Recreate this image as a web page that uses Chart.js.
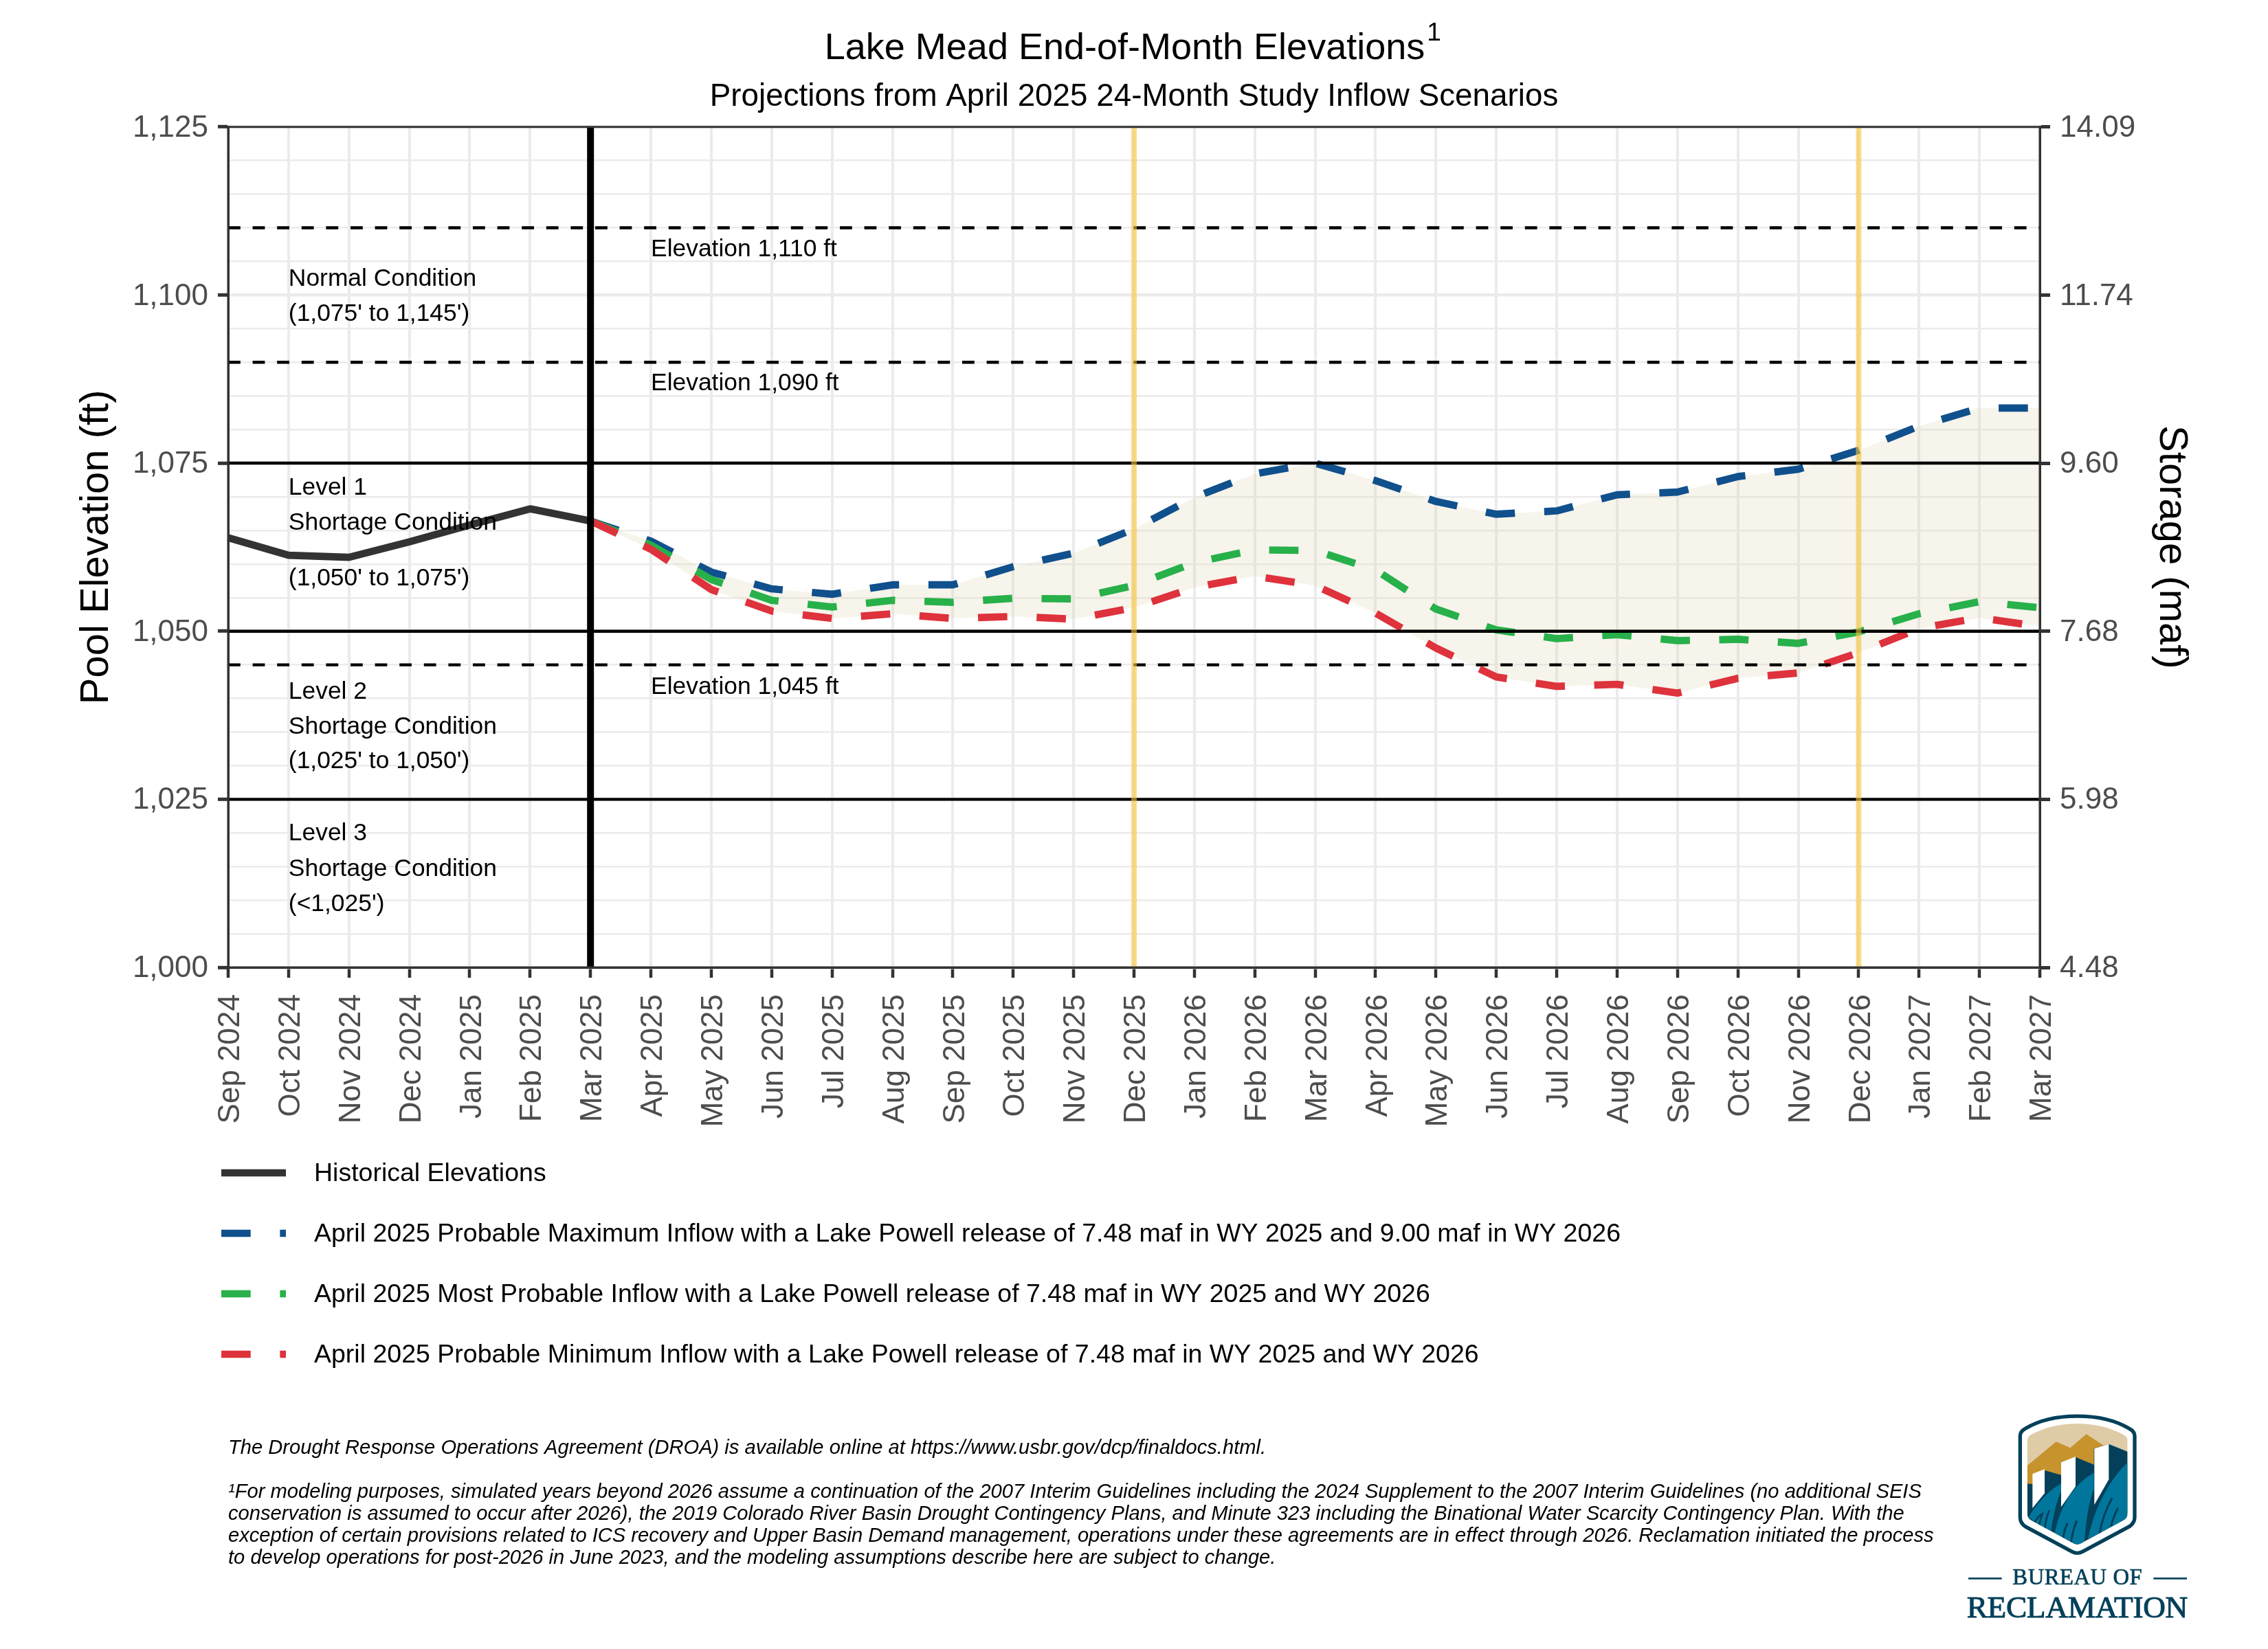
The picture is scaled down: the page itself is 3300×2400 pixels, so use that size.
<!DOCTYPE html>
<html>
<head>
<meta charset="utf-8">
<title>Lake Mead End-of-Month Elevations</title>
<script src="https://cdn.jsdelivr.net/npm/chart.js@4/dist/chart.umd.min.js"></script>
<style>
    html, body { margin: 0; padding: 0; background: #fff; }
    #page { position: relative; width: 3300px; height: 2400px; }
    #chart { position: absolute; left: 0; top: 0; }
    #logo { position: absolute; left: 2800px; top: 2000px; width: 500px; height: 400px; }
</style>
</head>
<body>
<div id="page">
    <canvas id="chart" width="3300" height="2400"></canvas>
    <!-- Reclamation logo -->
    <svg id="logo" viewBox="0 0 1500 1200" xmlns="http://www.w3.org/2000/svg">
        <defs>
            <clipPath id="inner">
                <path d="M449 290 Q449 275 465 265 C580 200 755 200 870 265 Q887 275 887 290 L887 605 Q887 630 865 640 L680 740 Q667 746 655 740 L470 640 Q449 630 449 605 Z"/>
            </clipPath>
        </defs>
        <path d="M418 270 Q418 250 440 238 C560 165 775 165 895 238 Q918 250 918 270 L918 625 Q918 650 895 665 L690 775 Q667 787 645 775 L440 665 Q418 650 418 625 Z" fill="#fff" stroke="#04405A" stroke-width="16"/>
        <g clip-path="url(#inner)">
            <rect x="440" y="190" width="460" height="570" fill="#DFCBA6"/>
            <polygon points="449,400 575,295 637,322 707,262 780,310 887,340 887,800 449,800" fill="#C6932C"/>
            <polygon points="449,478 472,480 525,420 597,440 597,385 660,362 740,395 740,325 805,305 887,338 887,800 449,800" fill="#04405A"/>
            <polygon points="472,435 525,415 525,520 472,585" fill="#fff"/>
            <polygon points="597,385 660,360 660,490 597,580" fill="#fff"/>
            <polygon points="742,325 805,305 805,460 742,570" fill="#fff"/>
            <path d="M455 625 C490 565 540 510 597 478 L597 510 C575 560 562 620 552 695 Z" fill="#01769C"/>
            <path d="M568 700 C590 590 640 490 740 430 L740 500 C718 555 705 640 698 745 L660 750 Z" fill="#01769C"/>
            <path d="M712 735 C730 620 790 480 887 385 L887 650 Z" fill="#01769C"/>
            <path d="M480 650 Q495 620 515 610 Q505 635 500 665 M525 680 Q530 630 545 595" fill="none" stroke="#04405A" stroke-width="8"/>
            <path d="M605 720 Q610 680 625 650 M640 740 Q645 690 665 640" fill="none" stroke="#04405A" stroke-width="9"/>
            <path d="M765 695 Q780 610 820 540 M815 665 Q825 620 845 585" fill="none" stroke="#04405A" stroke-width="9"/>
        </g>
        <rect x="192" y="888" width="146" height="8" fill="#04405A"/>
        <rect x="1000" y="888" width="146" height="8" fill="#04405A"/>
        <text x="385" y="919" font-family="Liberation Serif" font-size="98" textLength="565" lengthAdjust="spacing" fill="#04405A" stroke="#04405A" stroke-width="2">BUREAU OF</text>
        <text x="185" y="1063" font-family="Liberation Serif" font-size="136" textLength="965" lengthAdjust="spacing" fill="#04405A" stroke="#04405A" stroke-width="3">RECLAMATION</text>
    </svg>
</div>
<script>
const months = [
    'Sep 2024', 'Oct 2024', 'Nov 2024', 'Dec 2024', 'Jan 2025', 'Feb 2025', 'Mar 2025',
    'Apr 2025', 'May 2025', 'Jun 2025', 'Jul 2025', 'Aug 2025', 'Sep 2025', 'Oct 2025', 'Nov 2025', 'Dec 2025',
    'Jan 2026', 'Feb 2026', 'Mar 2026', 'Apr 2026', 'May 2026', 'Jun 2026', 'Jul 2026', 'Aug 2026', 'Sep 2026', 'Oct 2026', 'Nov 2026', 'Dec 2026',
    'Jan 2027', 'Feb 2027', 'Mar 2027'
];

// elevations in ft
const historical = [1063.9, 1061.3, 1061.0, 1063.3, 1065.8, 1068.2, 1066.4];
const probableMax = [1066.4, 1063.4, 1058.8, 1056.3, 1055.5, 1056.9, 1056.9, 1059.6, 1061.6, 1065.2,
    1069.9, 1073.4, 1075.0, 1072.4, 1069.3, 1067.4, 1067.9, 1070.3, 1070.7, 1073.0, 1074.1, 1076.9, 1080.5, 1083.2, 1083.2];
const mostProbable = [1066.4, 1062.8, 1057.7, 1054.6, 1053.6, 1054.6, 1054.3, 1054.9, 1054.8, 1056.8,
    1060.2, 1062.1, 1062.0, 1059.1, 1053.3, 1050.2, 1048.9, 1049.5, 1048.6, 1048.8, 1048.2, 1049.9, 1052.6, 1054.4, 1053.5];
const probableMin = [1066.4, 1062.2, 1056.2, 1053.0, 1051.9, 1052.6, 1051.9, 1052.2, 1051.8, 1053.5,
    1056.5, 1058.2, 1056.8, 1052.7, 1047.5, 1043.2, 1041.8, 1042.1, 1040.8, 1043.0, 1043.8, 1046.8, 1050.4, 1052.0, 1050.7];

const elevationTicks = [1000, 1025, 1050, 1075, 1100, 1125];
const storageLabels = ['4.48', '5.98', '7.68', '9.60', '11.74', '14.09'];

const solidLevels = [1075, 1050, 1025];
const dashedLevels = [1110, 1090, 1045];
const currentMonth = 'Mar 2025';
const yearMarks = ['Dec 2025', 'Dec 2026'];

const elevationNotes = ['Elevation 1,110 ft', 'Elevation 1,090 ft', 'Elevation 1,045 ft'];
const elevationNoteY = [1107, 1087, 1041.9];
const conditionNotes = ['Normal Condition', "(1,075' to 1,145')", 'Level 1', 'Shortage Condition', "(1,050' to 1,075')",
    'Level 2', 'Shortage Condition', "(1,025' to 1,050')", 'Level 3', 'Shortage Condition', "(<1,025')"];
const conditionNoteY = [1102.6, 1097.4, 1071.5, 1066.3, 1058, 1041.2, 1035.9, 1030.8, 1020.1, 1014.8, 1009.6];

const footnotes = [
    'The Drought Response Operations Agreement (DROA) is available online at https://www.usbr.gov/dcp/finaldocs.html.',
    '',
    '¹For modeling purposes, simulated years beyond 2026 assume a continuation of the 2007 Interim Guidelines including the 2024 Supplement to the 2007 Interim Guidelines (no additional SEIS',
    'conservation is assumed to occur after 2026), the 2019 Colorado River Basin Drought Contingency Plans, and Minute 323 including the Binational Water Scarcity Contingency Plan. With the',
    'exception of certain provisions related to ICS recovery and Upper Basin Demand management, operations under these agreements are in effect through 2026. Reclamation initiated the process',
    'to develop operations for post-2026 in June 2023, and the modeling assumptions describe here are subject to change.'
];

const mainTitle = 'Lake Mead End-of-Month Elevations';
const subTitle = 'Projections from April 2025 24-Month Study Inflow Scenarios';

const FONT = '"Liberation Sans", Arial, sans-serif';
const GREY_TEXT = '#4D4D4D';
const GRID = '#EBEBEB';
const AXIS = '#333333';

// projected series start at Mar 2025
function fromIndex(values, start) {
    return months.map((m, i) => (i >= start && i - start < values.length) ? values[i - start] : null);
}

function seriesDataset(label, data, color, extra) {
    return Object.assign({
        label: label,
        data: data,
        borderColor: color,
        borderWidth: 10.67,
        borderDash: [42.67, 42.67],
        borderCapStyle: 'butt',
        borderJoinStyle: 'round',
        pointRadius: 0,
        tension: 0,
        fill: false
    }, extra);
}

// 参考线、注释、图例、脚注
const overlayPlugin = {
    id: 'overlay',
    afterDatasetsDraw(chart) {
        const { ctx, chartArea: area, scales } = chart;
        const x = scales.x, y = scales.y;
        ctx.save();

        // reference lines
        ctx.strokeStyle = '#000';
        ctx.lineWidth = 4.45;
        solidLevels.forEach(v => hline(ctx, area, y.getPixelForValue(v)));
        ctx.setLineDash([17.8, 17.8]);
        dashedLevels.forEach(v => hline(ctx, area, y.getPixelForValue(v)));
        ctx.setLineDash([]);

        ctx.lineWidth = 10;
        vline(ctx, area, x.getPixelForValue(months.indexOf(currentMonth)));
        ctx.strokeStyle = 'rgba(249, 199, 60, 0.6)';
        ctx.lineWidth = 8;
        yearMarks.forEach(m => vline(ctx, area, x.getPixelForValue(months.indexOf(m))));

        // panel edge
        ctx.strokeStyle = AXIS;
        ctx.lineWidth = 3;
        ctx.strokeRect(area.left, area.top, area.right - area.left, area.bottom - area.top);

        // notes inside the panel
        ctx.fillStyle = '#000';
        ctx.font = '35.4px ' + FONT;
        ctx.textAlign = 'left';
        ctx.textBaseline = 'middle';
        elevationNotes.forEach((t, i) => {
            ctx.fillText(t, x.getPixelForValue(months.indexOf('Apr 2025')), y.getPixelForValue(elevationNoteY[i]) + 2);
        });
        conditionNotes.forEach((t, i) => {
            ctx.fillText(t, x.getPixelForValue(months.indexOf('Oct 2024')), y.getPixelForValue(conditionNoteY[i]) + 2);
        });

        // legend
        const rowY = [1707, 1795, 1883, 1971];
        ctx.font = '37.5px ' + FONT;
        chart.data.datasets.forEach((ds, i) => {
            ctx.strokeStyle = ds.borderColor;
            ctx.lineWidth = ds.borderWidth;
            ctx.setLineDash(ds.borderDash || []);
            ctx.beginPath();
            ctx.moveTo(322, rowY[i]);
            ctx.lineTo(416, rowY[i]);
            ctx.stroke();
            ctx.setLineDash([]);
            ctx.fillText(ds.label, 457, rowY[i] + 2);
        });

        // footnotes
        ctx.font = 'italic 29.15px ' + FONT;
        footnotes.forEach((t, i) => {
            if (t) ctx.fillText(t, 332, 2108 + i * 32);
        });

        // superscript after the main title
        ctx.font = '54px ' + FONT;
        const w = ctx.measureText(mainTitle).width;
        const total = ctx.measureText(mainTitle + '\u2002').width;
        ctx.font = '37px ' + FONT;
        ctx.textBaseline = 'alphabetic';
        ctx.fillText('1', chart.width / 2 - total / 2 + w + 3, 59);
        ctx.restore();
    }
};

function hline(ctx, area, py) {
    ctx.beginPath();
    ctx.moveTo(area.left, py);
    ctx.lineTo(area.right, py);
    ctx.stroke();
}

function vline(ctx, area, px) {
    ctx.beginPath();
    ctx.moveTo(px, area.top);
    ctx.lineTo(px, area.bottom);
    ctx.stroke();
}

new Chart(document.getElementById('chart').getContext('2d'), {
    type: 'line',
    data: {
        labels: months,
        datasets: [
            seriesDataset('Historical Elevations', fromIndex(historical, 0), '#333333', { borderDash: [], order: 4 }),
            seriesDataset('April 2025 Probable Maximum Inflow with a Lake Powell release of 7.48 maf in WY 2025 and 9.00 maf in WY 2026',
                fromIndex(probableMax, 6), '#10508C', {
                    order: 3,
                    fill: { target: 3, above: 'rgba(225, 215, 185, 0.28)', below: 'rgba(225, 215, 185, 0.28)' }
                }),
            seriesDataset('April 2025 Most Probable Inflow with a Lake Powell release of 7.48 maf in WY 2025 and WY 2026',
                fromIndex(mostProbable, 6), '#28B04A', { order: 2 }),
            seriesDataset('April 2025 Probable Minimum Inflow with a Lake Powell release of 7.48 maf in WY 2025 and WY 2026',
                fromIndex(probableMin, 6), '#DE323C', { order: 1 })
        ]
    },
    options: {
        responsive: false,
        animation: false,
        devicePixelRatio: 1,
        layout: { padding: 0 },
        plugins: {
            legend: { display: false },
            tooltip: { enabled: false },
            filler: { drawTime: 'beforeDatasetsDraw' },
            title: {
                display: true,
                text: mainTitle + '\u2002',
                color: '#000',
                font: { family: FONT, size: 54, weight: 'normal' },
                padding: { top: 39, bottom: 0 }
            },
            subtitle: {
                display: true,
                text: subTitle,
                color: '#000',
                font: { family: FONT, size: 45.8, weight: 'normal' },
                padding: { top: 10, bottom: 16 }
            }
        },
        scales: {
            x: {
                type: 'category',
                offset: false,
                afterFit(scale) { scale.height = 992; },
                border: { display: true, color: AXIS, width: 3 },
                grid: { color: GRID, lineWidth: 4, tickColor: AXIS, tickWidth: 4.5, tickLength: 15 },
                ticks: {
                    autoSkip: false,
                    minRotation: 90,
                    maxRotation: 90,
                    padding: 24,
                    labelOffset: 4,
                    color: GREY_TEXT,
                    font: { family: FONT, size: 44 }
                }
            },
            y: {
                position: 'left',
                min: 1000,
                max: 1125,
                afterFit(scale) { scale.width = 332; },
                border: { display: true, color: AXIS, width: 3 },
                grid: {
                    color: GRID,
                    lineWidth: ctx => elevationTicks.includes(ctx.tick.value) ? 4.6 : 2.5,
                    tickColor: ctx => elevationTicks.includes(ctx.tick.value) ? AXIS : 'transparent',
                    tickWidth: 5,
                    tickLength: 15
                },
                ticks: {
                    stepSize: 5,
                    autoSkip: false,
                    padding: 14,
                    labelOffset: 2,
                    color: GREY_TEXT,
                    font: { family: FONT, size: 44 },
                    callback: v => elevationTicks.includes(v) ? v.toLocaleString('en-US') : ''
                },
                title: {
                    display: true,
                    text: 'Pool Elevation (ft)',
                    color: '#000',
                    font: { family: FONT, size: 58 },
                    padding: { top: 106, bottom: 0 }
                }
            },
            y1: {
                position: 'right',
                min: 1000,
                max: 1125,
                afterFit(scale) { scale.width = 332; },
                border: { display: true, color: AXIS, width: 3 },
                grid: { drawOnChartArea: false, tickColor: AXIS, tickWidth: 5, tickLength: 15 },
                ticks: {
                    stepSize: 25,
                    autoSkip: false,
                    padding: 14,
                    labelOffset: 2,
                    color: GREY_TEXT,
                    font: { family: FONT, size: 44 },
                    callback: v => storageLabels[elevationTicks.indexOf(v)]
                },
                title: {
                    display: true,
                    text: 'Storage (maf)',
                    color: '#000',
                    font: { family: FONT, size: 58 },
                    padding: { top: 106, bottom: 0 }
                }
            }
        }
    },
    plugins: [overlayPlugin]
});
</script>
</body>
</html>
